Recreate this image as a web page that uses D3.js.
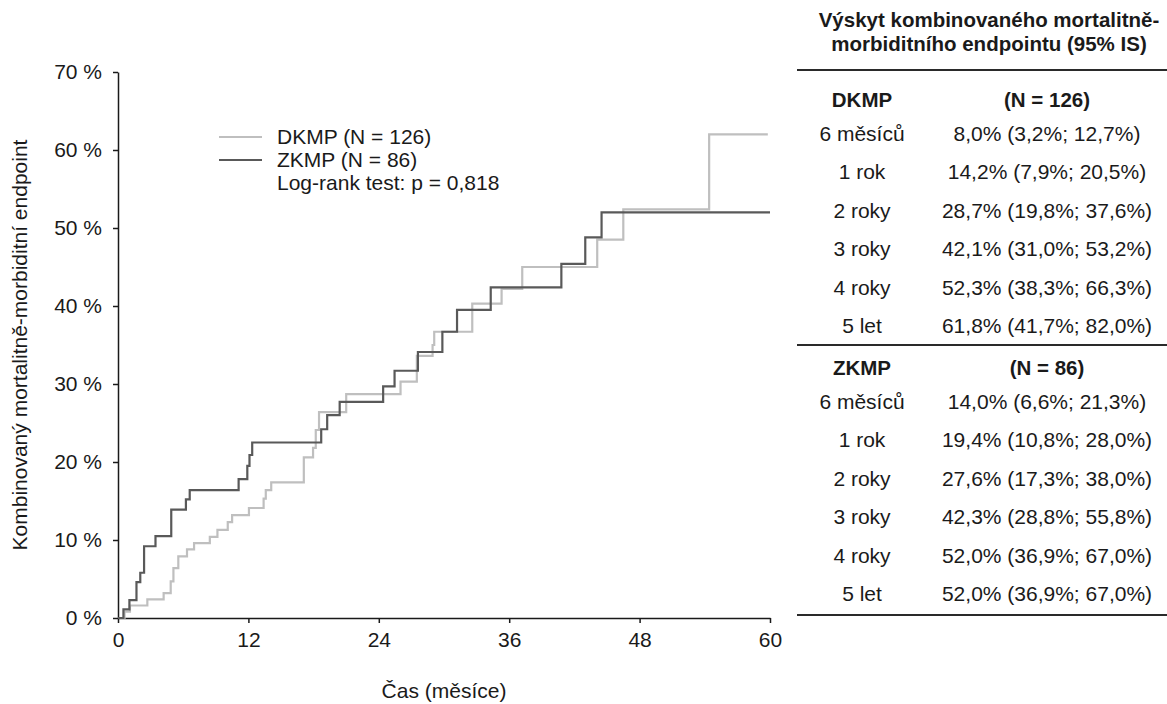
<!DOCTYPE html>
<html>
<head>
    <title>Kombinovaný mortalitně-morbiditní endpoint</title>
    <meta charset="utf-8">
    <style type="text/css">
        body { margin: 0; background: #fff; }
        svg text {
            font-family: "Liberation Sans", Arial, sans-serif;
            font-size: 21px;
            fill: #1a1a1a;
        }
        .axis path, .axis line {
            fill: none;
            stroke: #1a1a1a;
            stroke-width: 1.5px;
        }
        .axis text { font-size: 21px; }
        .tbl-line { stroke: #2a2a2a; stroke-width: 2px; }
        .bold { font-weight: bold; font-size: 20.5px !important; }
    </style>
</head>
<body>
<svg width="1167" height="704"></svg>

<script src="https://cdnjs.cloudflare.com/ajax/libs/d3/7.8.5/d3.min.js"></script>
<script type="text/javascript">
    /*========= DATA =========*/
    // čas (měsíce) a kumulativní výskyt (%) po každém kroku
    var dkmpTime = [0, 0.6, 1.1, 2.7, 4.2, 4.85, 5.1, 5.55, 6.35, 7.0, 8.45, 9.15, 10.1, 10.5, 12.05,
                    13.4, 13.6, 14.1, 17.1, 17.95, 18.2, 18.5, 21.0, 26.0, 27.5, 28.95, 29.1,
                    32.6, 35.3, 37.2, 44.1, 46.5, 54.4, 59.8];
    var dkmpPct  = [0, 0.8, 1.6, 2.4, 3.2, 4.7, 6.4, 7.9, 8.8, 9.6, 10.4, 11.3, 12.3, 13.2, 14.1,
                    15.3, 16.4, 17.4, 20.6, 21.8, 24.1, 26.4, 28.7, 30.3, 33.6, 35.0, 36.7,
                    40.3, 42.2, 45.0, 48.5, 52.4, 62.0, 62.0];

    var zkmpTime = [0, 0.5, 1.05, 1.7, 2.05, 2.4, 3.45, 4.9, 6.25, 6.6, 11.1, 11.9, 12.1, 12.35,
                    18.7, 19.25, 20.4, 24.4, 25.45, 27.6, 29.85, 31.2, 34.3, 40.8, 43.0, 44.5, 60];
    var zkmpPct  = [0, 1.1, 2.3, 4.6, 5.8, 9.2, 10.5, 13.9, 15.2, 16.4, 17.8, 19.5, 20.9, 22.5,
                    24.2, 26.0, 27.7, 29.7, 31.7, 34.1, 36.7, 39.5, 42.4, 45.4, 48.8, 52.0, 52.0];

    var seriesNames = ['DKMP (N = 126)', 'ZKMP (N = 86)'];
    var logRankText = 'Log-rank test: p = 0,818';
    var xTicks = [0, 12, 24, 36, 48, 60];
    var yTicks = [0, 10, 20, 30, 40, 50, 60, 70];
    var xTitle = 'Čas (měsíce)';
    var yTitle = 'Kombinovaný mortalitně-morbiditní endpoint';

    var tableTitle = ['Výskyt kombinovaného mortalitně-', 'morbiditního endpointu (95% IS)'];
    var timepoints = ['6 měsíců', '1 rok', '2 roky', '3 roky', '4 roky', '5 let'];
    var dkmpHead = ['DKMP', '(N = 126)'];
    var dkmpCells = ['8,0% (3,2%; 12,7%)', '14,2% (7,9%; 20,5%)', '28,7% (19,8%; 37,6%)',
                     '42,1% (31,0%; 53,2%)', '52,3% (38,3%; 66,3%)', '61,8% (41,7%; 82,0%)'];
    var zkmpHead = ['ZKMP', '(N = 86)'];
    var zkmpCells = ['14,0% (6,6%; 21,3%)', '19,4% (10,8%; 28,0%)', '27,6% (17,3%; 38,0%)',
                     '42,3% (28,8%; 55,8%)', '52,0% (36,9%; 67,0%)', '52,0% (36,9%; 67,0%)'];

    /*========= COLOR =========*/
    var colors = ['#bfbfbf', '#595959'];

    /*========= SIZE =========*/
    var margin = { top: 72, left: 118 };
    var width = 652;
    var height = 546;

    var svg = d3.select('svg');

    var x = d3.scaleLinear().domain([0, 60]).range([0, width]);
    var y = d3.scaleLinear().domain([0, 70]).range([height, 0]);

    var focus = svg.append('g')
        .attr('transform', 'translate(' + margin.left + ',' + margin.top + ')');

    // osy
    focus.append('g').attr('class', 'axis')
        .attr('transform', 'translate(0,' + height + ')')
        .call(d3.axisBottom(x).tickValues(xTicks).tickSize(5).tickPadding(9).tickSizeOuter(0));

    focus.append('g').attr('class', 'axis')
        .call(d3.axisLeft(y).tickValues(yTicks).tickSize(5).tickPadding(11).tickSizeOuter(0)
            .tickFormat(d => d + ' %'));

    // křivky
    var line = d3.line()
        .x(d => x(d[0]))
        .y(d => y(d[1]))
        .curve(d3.curveStepAfter);

    var curves = [
        d3.zip(dkmpTime, dkmpPct),
        d3.zip(zkmpTime, zkmpPct)
    ];

    focus.selectAll('.km')
        .data(curves)
        .enter().append('path')
        .attr('class', 'km')
        .attr('d', line)
        .attr('fill', 'none')
        .attr('stroke', (d, i) => colors[i])
        .attr('stroke-width', 2.2);

    // popisky os
    svg.append('text')
        .attr('x', margin.left + width / 2)
        .attr('y', 691)
        .attr('dy', '0.35em')
        .attr('text-anchor', 'middle')
        .text(xTitle);

    svg.append('text')
        .attr('transform', 'translate(20,' + (margin.top + height / 2) + ') rotate(-90)')
        .attr('dy', '0.35em')
        .attr('text-anchor', 'middle')
        .text(yTitle);

    // legenda
    var legend = svg.append('g').attr('transform', 'translate(219,137)');
    seriesNames.forEach(function (name, i) {
        legend.append('line')
            .attr('x1', 0).attr('x2', 43)
            .attr('y1', i * 23).attr('y2', i * 23)
            .attr('stroke', colors[i]).attr('stroke-width', 2.2);
        legend.append('text')
            .attr('x', 58).attr('y', i * 23).attr('dy', '0.35em')
            .text(name);
    });
    legend.append('text')
        .attr('x', 58).attr('y', 46).attr('dy', '0.35em')
        .text(logRankText);

    // tabulka
    var tbl = svg.append('g');
    var col1 = 862, col2 = 1047, tblLeft = 797, tblRight = 1167;

    tableTitle.forEach(function (t, i) {
        tbl.append('text').attr('class', 'bold')
            .attr('x', 989).attr('y', 20 + i * 24).attr('dy', '0.35em')
            .attr('text-anchor', 'middle')
            .text(t);
    });

    function block(head, cells, top) {
        tbl.append('text').attr('class', 'bold')
            .attr('x', col1).attr('y', top).attr('dy', '0.35em')
            .attr('text-anchor', 'middle').text(head[0]);
        tbl.append('text').attr('class', 'bold')
            .attr('x', col2).attr('y', top).attr('dy', '0.35em')
            .attr('text-anchor', 'middle').text(head[1]);
        timepoints.forEach(function (t, i) {
            var yy = top + 38.5 * (i + 1) - 5;
            tbl.append('text')
                .attr('x', col1).attr('y', yy).attr('dy', '0.35em')
                .attr('text-anchor', 'middle').text(t);
            tbl.append('text')
                .attr('x', col2).attr('y', yy).attr('dy', '0.35em')
                .attr('text-anchor', 'middle').text(cells[i]);
        });
    }
    block(dkmpHead, dkmpCells, 100);
    block(zkmpHead, zkmpCells, 368);

    [70, 345, 615].forEach(function (ly) {
        tbl.append('line').attr('class', 'tbl-line')
            .attr('x1', tblLeft).attr('x2', tblRight)
            .attr('y1', ly).attr('y2', ly);
    });
</script>
</body>
</html>
